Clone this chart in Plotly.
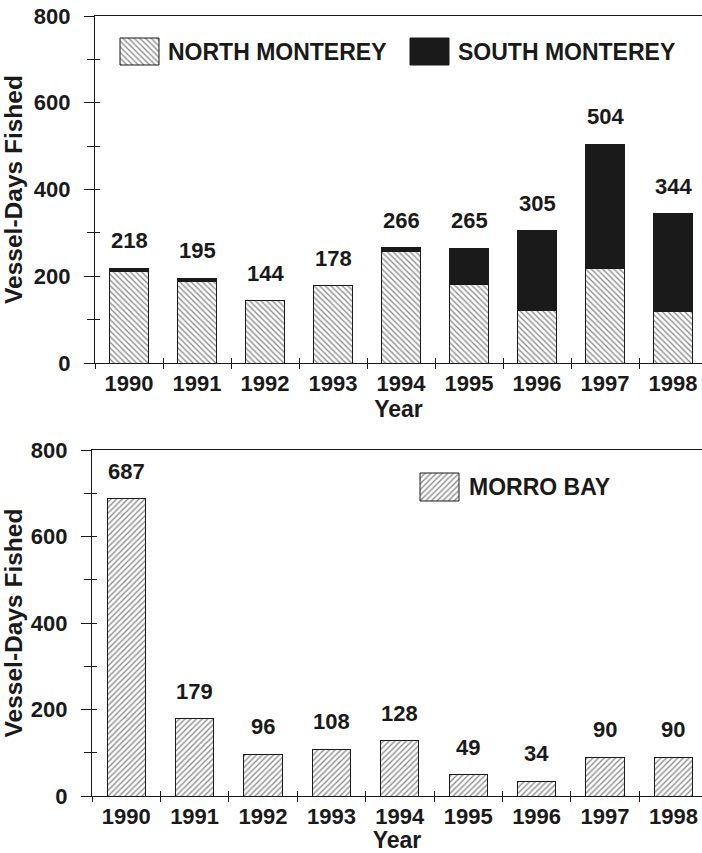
import plotly.graph_objects as go

# ---------------- data ----------------
years = ["1990", "1991", "1992", "1993", "1994", "1995", "1996", "1997", "1998"]
north_monterey = [210, 187, 144, 178, 256, 180, 120, 218, 118]
south_monterey = [8, 8, 0, 0, 10, 85, 185, 286, 226]
monterey_totals = [218, 195, 144, 178, 266, 265, 305, 504, 344]
morro_bay = [687, 179, 96, 108, 128, 49, 34, 90, 90]
y_ticks = [0, 200, 400, 600, 800]

W, H = 702, 853
FONT = "Liberation Sans, Arial, Helvetica, sans-serif"
INK = "#1a1a1a"


def dom_x(x0, x1):
    return [x0 / W, x1 / W]


def dom_y(top, bottom):
    return [1 - bottom / H, 1 - top / H]


# pixel layout of the two panels (left, right, top, bottom)
TOP = dict(l=95, r=702, t=16, b=363, cat=68.0)
BOT = dict(l=92, r=702, t=450, b=796, cat=68.4)

fig = go.Figure()

bar_line = dict(color=INK, width=1)
hatch_n = dict(shape="\\", fgcolor=INK, bgcolor="white", size=4, solidity=0.34)
hatch_m = dict(shape="/", fgcolor=INK, bgcolor="white", size=4, solidity=0.34)

# ---- top panel bars ----
fig.add_trace(go.Bar(
    x=years, y=north_monterey, xaxis="x", yaxis="y", width=0.56,
    marker=dict(color="white", line=bar_line, pattern=hatch_n),
    showlegend=False, hoverinfo="skip"))
fig.add_trace(go.Bar(
    x=years, y=south_monterey, xaxis="x", yaxis="y", width=0.56,
    marker=dict(color=INK, line=bar_line),
    showlegend=False, hoverinfo="skip"))

# ---- bottom panel bars ----
fig.add_trace(go.Bar(
    x=years, y=morro_bay, xaxis="x2", yaxis="y2", width=0.56,
    marker=dict(color="white", line=bar_line, pattern=hatch_m),
    showlegend=False, hoverinfo="skip"))

# invisible traces on overlay axes (for crossing ticks)
fig.add_trace(go.Scatter(x=years, y=monterey_totals, xaxis="x3", yaxis="y3", mode="none",
                         showlegend=False, hoverinfo="skip"))
fig.add_trace(go.Scatter(x=years, y=morro_bay, xaxis="x4", yaxis="y4", mode="none",
                         showlegend=False, hoverinfo="skip"))


# ---- legend patches (pixel-space helper axes) ----
def patch(x0, x1, y0, y1, xa, ya, pattern=None, color="white"):
    kw = dict(x=[x0, x1, x1, x0, x0], y=[y0, y0, y1, y1, y0], xaxis=xa, yaxis=ya,
              mode="lines", fill="toself", line=dict(color=INK, width=1),
              fillcolor=color, showlegend=False, hoverinfo="skip")
    if pattern:
        kw["fillpattern"] = pattern
    fig.add_trace(go.Scatter(**kw))


patch(120, 159, 38, 65, "x5", "y5", pattern=hatch_n)
patch(410, 449, 38, 65, "x5", "y5", color=INK)
patch(420, 459, 473, 501, "x6", "y6", pattern=hatch_m)

tickfont = dict(family=FONT, size=22, color=INK, weight="bold")
xtitlefont = dict(family=FONT, size=23, color=INK, weight="bold")
ytitlefont = dict(family=FONT, size=24.5, color=INK, weight="bold")


def main_x(P, anchor):
    return dict(domain=dom_x(P["l"], P["r"]), anchor=anchor, type="category",
                categoryorder="array", categoryarray=years, automargin=False,
                range=[-0.5, -0.5 + (P["r"] - P["l"]) / P["cat"]],
                showline=True, linecolor=INK, linewidth=1.2, mirror=True,
                ticks="outside", tickson="boundaries", ticklen=5, tickwidth=1, tickcolor=INK,
                tickfont=tickfont, showgrid=False, zeroline=False, fixedrange=True,
                title=dict(text="Year", font=xtitlefont, standoff=0))


def main_y(P, anchor):
    return dict(domain=dom_y(P["t"], P["b"]), anchor=anchor, range=[0, 800], automargin=False,
                tickmode="array", tickvals=y_ticks,
                showline=True, linecolor=INK, linewidth=1.2,
                ticks="outside", ticklen=10, tickwidth=1, tickcolor=INK,
                minor=dict(dtick=100, ticks="outside", ticklen=7, tickcolor=INK, tickwidth=1),
                tickfont=tickfont, showgrid=False, zeroline=False, fixedrange=True,
                ticklabelstandoff=9,
                title=dict(text="Vessel-Days Fished", font=ytitlefont, standoff=4))


def over_x(P, base, anchor):
    return dict(overlaying=base, anchor=anchor, type="category", automargin=False,
                categoryorder="array", categoryarray=years,
                range=[-0.5, -0.5 + (P["r"] - P["l"]) / P["cat"]],
                showline=False, ticks="inside", tickson="boundaries", ticklen=5,
                tickcolor=INK, tickwidth=1, showticklabels=False, showgrid=False,
                zeroline=False, fixedrange=True)


def over_y(P, base, anchor):
    return dict(overlaying=base, anchor=anchor, range=[0, 800], automargin=False,
                tickmode="array", tickvals=y_ticks, showline=False,
                ticks="inside", ticklen=5, tickcolor=INK, tickwidth=1,
                minor=dict(dtick=100, ticks="inside", ticklen=5, tickcolor=INK, tickwidth=1),
                showticklabels=False, showgrid=False, zeroline=False, fixedrange=True)


def pix_x(P, anchor):
    return dict(domain=dom_x(P["l"], P["r"]), anchor=anchor, range=[P["l"], P["r"]],
                visible=False, fixedrange=True, automargin=False)


def pix_y(P, anchor):
    return dict(domain=dom_y(P["t"], P["b"]), anchor=anchor, range=[P["b"], P["t"]],
                visible=False, fixedrange=True, automargin=False)


fig.update_layout(
    width=W, height=H, margin=dict(l=0, r=0, t=0, b=0, autoexpand=False),
    paper_bgcolor="white", plot_bgcolor="rgba(0,0,0,0)",
    barmode="stack", bargap=0.44,
    font=dict(family=FONT, color=INK),
    xaxis=main_x(TOP, "y"), yaxis=main_y(TOP, "x"),
    xaxis2=main_x(BOT, "y2"), yaxis2=main_y(BOT, "x2"),
    xaxis3=over_x(TOP, "x", "y"), yaxis3=over_y(TOP, "y", "x"),
    xaxis4=over_x(BOT, "x2", "y2"), yaxis4=over_y(BOT, "y2", "x2"),
    xaxis5=pix_x(TOP, "y5"), yaxis5=pix_y(TOP, "x5"),
    xaxis6=pix_x(BOT, "y6"), yaxis6=pix_y(BOT, "x6"),
)

annotations = []
lab_font = dict(family=FONT, size=22, color=INK, weight="bold")
for i, tot in enumerate(monterey_totals):
    annotations.append(dict(x=i, y=tot, xref="x", yref="y", text=str(tot),
                            showarrow=False, yanchor="bottom", yshift=13, font=lab_font))
for i, v in enumerate(morro_bay):
    annotations.append(dict(x=i, y=v, xref="x2", yref="y2", text=str(v),
                            showarrow=False, yanchor="bottom", yshift=13, font=lab_font))

leg_font = dict(family=FONT, size=23, color=INK, weight="bold")
annotations += [
    dict(x=166, y=52, xref="x5", yref="y5", text="NORTH MONTEREY", showarrow=False,
         xanchor="left", yanchor="middle", font=leg_font),
    dict(x=456, y=52, xref="x5", yref="y5", text="SOUTH MONTEREY", showarrow=False,
         xanchor="left", yanchor="middle", font=leg_font),
    dict(x=467, y=487, xref="x6", yref="y6", text="MORRO BAY", showarrow=False,
         xanchor="left", yanchor="middle", font=leg_font),
]
fig.update_layout(annotations=annotations)

fig.write_html(
    "out.html",
    config={"displayModeBar": False, "staticPlot": True},
    post_script="document.body.style.margin='0';document.body.style.overflow='hidden';",
)
